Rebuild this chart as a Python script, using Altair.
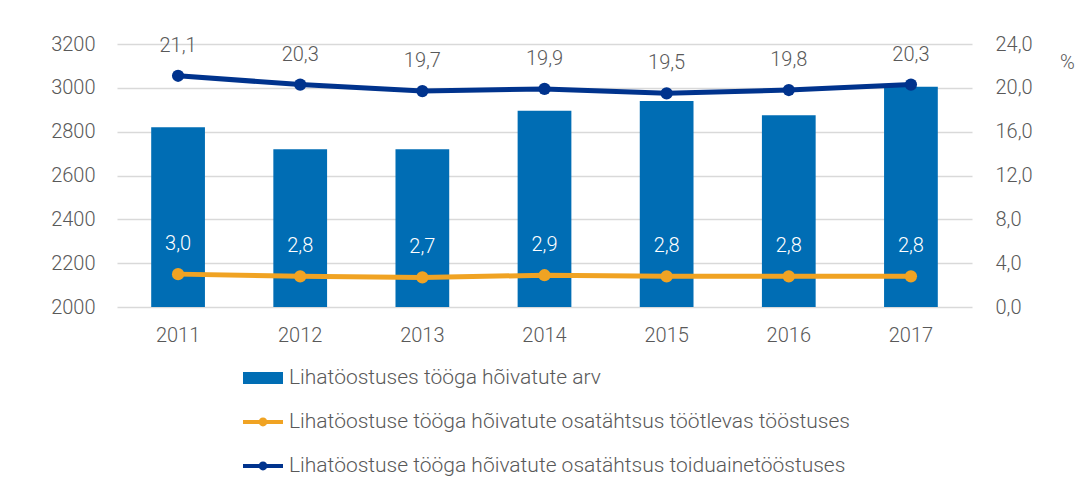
import altair as alt
import pandas as pd

years = ["2011", "2012", "2013", "2014", "2015", "2016", "2017"]
employed = [2820, 2720, 2720, 2895, 2940, 2875, 3005]
share_manuf = [3.0, 2.8, 2.7, 2.9, 2.8, 2.8, 2.8]
share_food = [21.1, 20.3, 19.7, 19.9, 19.5, 19.8, 20.3]

s_bar = "Lihatöostuses tööga hõivatute arv"
s_manuf = "Lihatöostuse tööga hõivatute osatähtsus töötlevas tööstuses"
s_food = "Lihatöostuse tööga hõivatute osatähtsus toiduainetööstuses"
series = [s_bar, s_manuf, s_food]
colors = ["#006DB4", "#F0A323", "#00338D"]

FONT = "Roboto"
GREY = "#595959"
FS = 20

def fmt(v):
    return f"{v:.1f}".replace(".", ",")

bars_df = pd.DataFrame({"year": years, "value": employed})
manuf_df = pd.DataFrame({"year": years, "value": share_manuf, "label": [fmt(v) for v in share_manuf]})
food_df = pd.DataFrame({"year": years, "value": share_food, "label": [fmt(v) for v in share_food]})
legend_df = pd.DataFrame({"year": [years[0]] * 3, "series": series, "value": [None, None, None]})

x_enc = alt.X(
    "year:N",
    title=None,
    scale=alt.Scale(paddingInner=0.56, paddingOuter=0.28),
    axis=alt.Axis(
        labelAngle=0, domain=False, ticks=False, labelPadding=18,
        labelFont=FONT, labelFontSize=FS, labelColor=GREY, labelFontWeight=300,
    ),
)

bars = alt.Chart(bars_df).mark_bar(color=colors[0]).encode(
    x=x_enc,
    y=alt.Y(
        "value:Q",
        title=None,
        scale=alt.Scale(domain=[2000, 3200], zero=False, nice=False),
        axis=alt.Axis(
            orient="left", values=list(range(2000, 3201, 200)), format="d", domain=False, ticks=False,
            labelPadding=22, labelFont=FONT, labelFontSize=FS, labelColor=GREY,
            labelFontWeight=300, grid=True, gridColor="#D9D9D9", gridWidth=1.5,
        ),
    ),
    y2=alt.datum(2000),
)

y_right = alt.Y(
    "value:Q",
    title="%",
    scale=alt.Scale(domain=[0, 24], nice=False),
    axis=alt.Axis(
        orient="right", values=[0, 4, 8, 12, 16, 20, 24], domain=False, ticks=False, grid=False,
        labelPadding=23, labelFont=FONT, labelFontSize=FS, labelColor=GREY, labelFontWeight=300,
        labelExpr="replace(format(datum.value, '.1f'), '.', ',')",
        titleAngle=0, titleX=95, titleY=28, titleFont=FONT, titleFontSize=FS,
        titleColor=GREY, titleFontWeight=300,
    ),
)


def series_layers(df, color, label_color):
    base = alt.Chart(df).encode(x=alt.X("year:N"), y=y_right)
    line = base.mark_line(strokeWidth=5, color=color)
    pts = base.mark_point(filled=True, size=150, opacity=1, color=color)
    txt = base.mark_text(dy=-30, font=FONT, fontSize=FS, fontWeight=300, color=label_color).encode(
        text="label:N"
    )
    return [line, pts, txt]


shape_paths = [
    "M-1,-0.3L1,-0.3L1,0.3L-1,0.3Z",
    "M-1,-0.1L1,-0.1L1,0.1L-1,0.1Z M0.22,0A0.22,0.22 0 1,1 -0.22,0A0.22,0.22 0 1,1 0.22,0Z",
    "M-1,-0.1L1,-0.1L1,0.1L-1,0.1Z M0.22,0A0.22,0.22 0 1,1 -0.22,0A0.22,0.22 0 1,1 0.22,0Z",
]

legend_props = dict(
    title=None, orient="none", legendX=126, legendY=314, direction="vertical",
    symbolSize=1600, symbolStrokeWidth=0, symbolOpacity=1, labelFont=FONT,
    labelFontSize=21, labelColor=GREY, labelFontWeight=300, labelLimit=800,
    rowPadding=14, labelOffset=6, padding=0,
)

legend_layer = alt.Chart(legend_df).mark_point(filled=True).encode(
    x=alt.X("year:N"),
    y=y_right,
    color=alt.Color("series:N", scale=alt.Scale(domain=series, range=colors), legend=alt.Legend(**legend_props)),
    shape=alt.Shape("series:N", scale=alt.Scale(domain=series, range=shape_paths), legend=alt.Legend(**legend_props)),
)

right = alt.layer(
    *series_layers(manuf_df, colors[1], "white"),
    *series_layers(food_df, colors[2], GREY),
    legend_layer,
)

chart = (
    alt.layer(bars, right)
    .resolve_scale(y="independent")
    .properties(
        width=855,
        height=263,
        autosize=alt.AutoSizeParams(type="none"),
        padding={"left": 109, "top": 36, "right": 106, "bottom": 178},
    )
    .configure_view(stroke=None)
)

chart.save("out.html", embed_options={"renderer": "svg", "actions": False})
